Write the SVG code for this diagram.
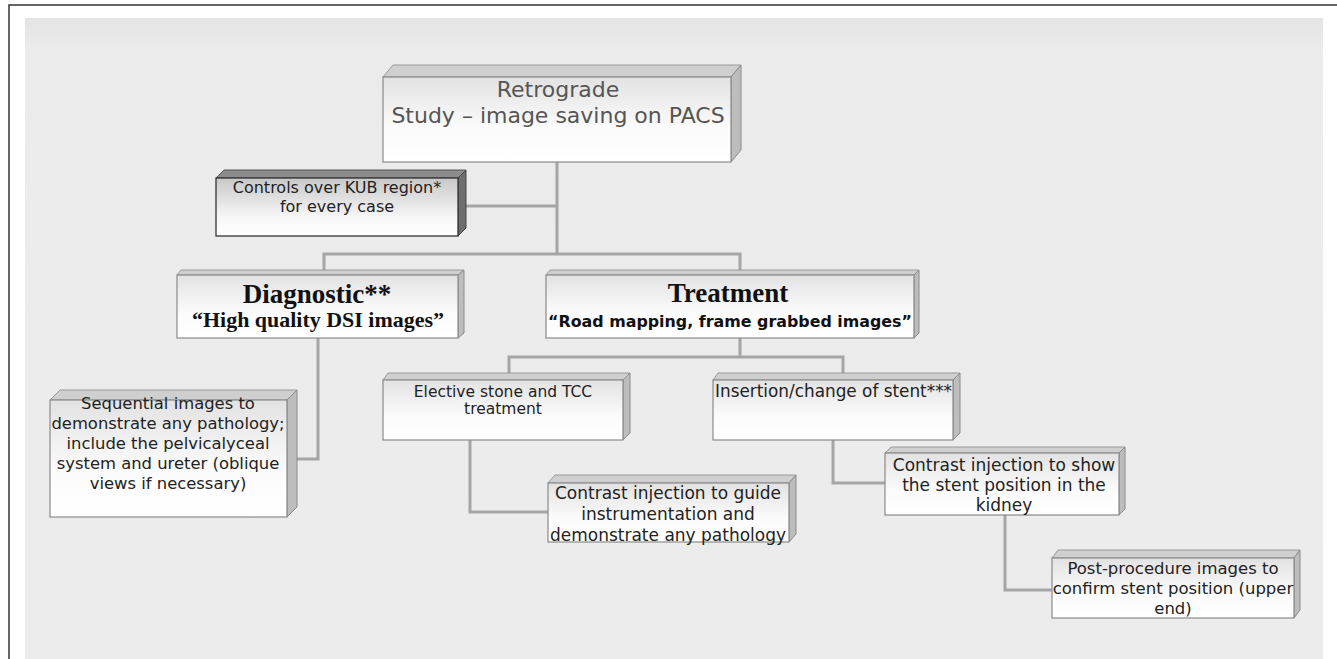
<svg xmlns="http://www.w3.org/2000/svg" width="1337" height="659" viewBox="0 0 1337 659">
<defs>
<linearGradient id="face" x1="0" y1="0" x2="0" y2="1">
<stop offset="0" stop-color="#e2e2e2"/>
<stop offset="0.6" stop-color="#fbfbfb"/>
<stop offset="1" stop-color="#ffffff"/>
</linearGradient>
<linearGradient id="faceDark" x1="0" y1="0" x2="0" y2="1">
<stop offset="0" stop-color="#c8c8c8"/>
<stop offset="0.7" stop-color="#f8f8f8"/>
<stop offset="1" stop-color="#ffffff"/>
</linearGradient>
<linearGradient id="bg" x1="0" y1="0" x2="0" y2="1">
<stop offset="0" stop-color="#e4e4e4"/>
<stop offset="0.05" stop-color="#ebebeb"/>
<stop offset="1" stop-color="#ececec"/>
</linearGradient>
</defs>
<style>
.face{fill:url(#face);stroke:#8a8a8a;stroke-width:1.2}
.top{fill:#cfcfcf;stroke:#9a9a9a;stroke-width:1}
.side{fill:#bdbdbd;stroke:#8a8a8a;stroke-width:1}
.conn{fill:none;stroke:#a5a5a5;stroke-width:3}
.t{font-family:"DejaVu Sans",Verdana,sans-serif;fill:#222;text-anchor:middle}
.ser{font-family:"Liberation Serif","Times New Roman",serif;font-weight:bold;fill:#111;text-anchor:middle}
</style>
<rect x="0" y="0" width="1337" height="659" fill="#ffffff"/>
<path d="M9 659 V5 H1337" fill="none" stroke="#333" stroke-width="1.5"/>
<rect x="25" y="18" width="1298" height="641" fill="url(#bg)"/>

<g id="connectors">
<path class="conn" d="M557 162 V255"/>
<path class="conn" d="M463 206 H557"/>
<path class="conn" d="M324 270 V254 H740 V270"/>
<path class="conn" d="M740 338 V357"/>
<path class="conn" d="M509 373 V357 H843 V373"/>
<path class="conn" d="M318 338 V459 H297"/>
<path class="conn" d="M470 440 V512 H548"/>
<path class="conn" d="M833 440 V483 H885"/>
<path class="conn" d="M1005 515 V590 H1052"/>
</g>

<g id="node-retrograde">
<polygon class="top" points="383,77 393,65 741,65 731,77"/>
<polygon class="side" points="731,77 741,65 741,150 731,162"/>
<rect class="face" x="383" y="77" width="348" height="85"/>
<text class="t" x="558" y="97" font-size="22" style="fill:#555">Retrograde</text>
<text class="t" x="558" y="123" font-size="22" style="fill:#555">Study – image saving on PACS</text>
</g>

<g id="node-controls">
<polygon points="216,178 224,170 466,170 458,178" fill="#8c8c8c" stroke="#555"/>
<polygon points="458,178 466,170 466,228 458,236" fill="#6e6e6e" stroke="#444"/>
<rect x="216" y="178" width="242" height="58" fill="url(#faceDark)" stroke="#333" stroke-width="1.3"/>
<text class="t" x="337" y="193" font-size="16">Controls over KUB region*</text>
<text class="t" x="337" y="212" font-size="16">for every case</text>
</g>

<g id="node-diagnostic">
<polygon class="top" points="177,275 181,270 464,270 458,275"/>
<polygon class="side" points="458,275 464,270 464,333 458,338"/>
<rect class="face" x="177" y="275" width="281" height="63"/>
<text class="ser" x="317" y="303" font-size="27">Diagnostic**</text>
<text class="ser" x="318" y="327" font-size="21" textLength="252" lengthAdjust="spacingAndGlyphs">“High quality DSI images”</text>
</g>

<g id="node-treatment">
<polygon class="top" points="546,275 550,270 919,270 914,275"/>
<polygon class="side" points="914,275 919,270 919,333 914,338"/>
<rect class="face" x="546" y="275" width="368" height="63"/>
<text class="ser" x="728" y="302" font-size="27">Treatment</text>
<text x="730" y="327" font-size="15" font-weight="bold" font-family="&quot;DejaVu Sans&quot;,Verdana,sans-serif" fill="#111" text-anchor="middle" textLength="364" lengthAdjust="spacingAndGlyphs">“Road mapping, frame grabbed images”</text>
</g>

<g id="node-sequential">
<polygon class="top" points="50,400 60,390 297,390 287,400"/>
<polygon class="side" points="287,400 297,390 297,507 287,517"/>
<rect class="face" x="50" y="400" width="237" height="117"/>
<text class="t" x="168" y="409" font-size="16.4">Sequential images to</text>
<text class="t" x="168" y="429" font-size="16.4">demonstrate any pathology;</text>
<text class="t" x="168" y="449" font-size="16.4">include the pelvicalyceal</text>
<text class="t" x="168" y="469" font-size="16.4">system and ureter (oblique</text>
<text class="t" x="168" y="489" font-size="16.4">views if necessary)</text>
</g>

<g id="node-elective">
<polygon class="top" points="383,380 388,373 630,373 623,380"/>
<polygon class="side" points="623,380 630,373 630,433 623,440"/>
<rect class="face" x="383" y="380" width="240" height="60"/>
<text class="t" x="503" y="397" font-size="15.5">Elective stone and TCC</text>
<text class="t" x="503" y="414" font-size="15.5">treatment</text>
</g>

<g id="node-insertion">
<polygon class="top" points="713,380 718,373 960,373 953,380"/>
<polygon class="side" points="953,380 960,373 960,433 953,440"/>
<rect class="face" x="713" y="380" width="240" height="60"/>
<text x="715" y="397" font-size="17" font-family="&quot;DejaVu Sans&quot;,Verdana,sans-serif" fill="#222" textLength="237" lengthAdjust="spacingAndGlyphs">Insertion/change of stent***</text>
</g>

<g id="node-contrast-guide">
<polygon class="top" points="548,483 555,475 796,475 789,483"/>
<polygon class="side" points="789,483 796,475 796,534 789,542"/>
<rect class="face" x="548" y="483" width="241" height="59"/>
<text class="t" x="668" y="499" font-size="17">Contrast injection to guide</text>
<text class="t" x="668" y="520" font-size="17">instrumentation and</text>
<text class="t" x="668" y="541" font-size="17">demonstrate any pathology</text>
</g>

<g id="node-contrast-show">
<polygon class="top" points="885,453 891,447 1125,447 1119,453"/>
<polygon class="side" points="1119,453 1125,447 1125,509 1119,515"/>
<rect class="face" x="885" y="453" width="234" height="62"/>
<text class="t" x="1004" y="471" font-size="17">Contrast injection to show</text>
<text class="t" x="1004" y="491" font-size="17">the stent position in the</text>
<text class="t" x="1004" y="511" font-size="17">kidney</text>
</g>

<g id="node-post">
<polygon class="top" points="1052,558 1058,550 1300,550 1294,558"/>
<polygon class="side" points="1294,558 1300,550 1300,610 1294,618"/>
<rect class="face" x="1052" y="558" width="242" height="60"/>
<text class="t" x="1173" y="574" font-size="16.5">Post-procedure images to</text>
<text class="t" x="1173" y="594" font-size="16.5">confirm stent position (upper</text>
<text class="t" x="1173" y="614" font-size="16.5">end)</text>
</g>
</svg>
